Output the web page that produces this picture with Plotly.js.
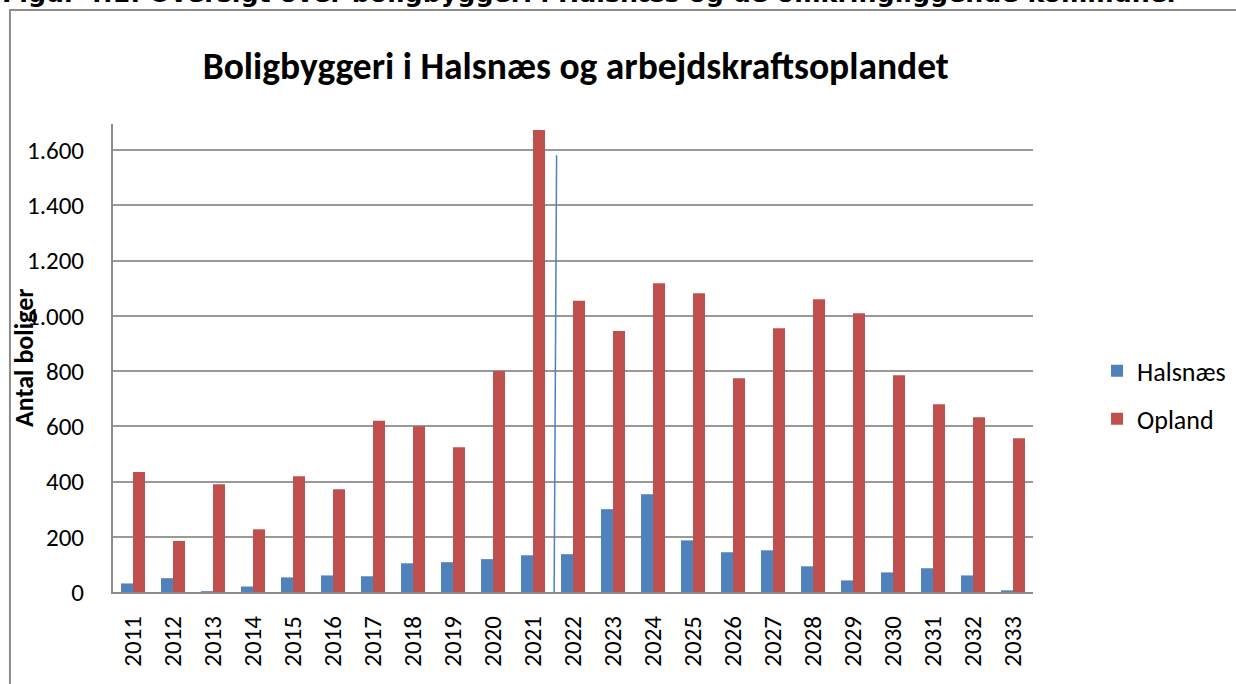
<!DOCTYPE html>
<html>
<head>
<meta charset="utf-8">
<script src="https://cdn.plot.ly/plotly-3.0.1.min.js"></script>
<style>
html,body{margin:0;padding:0;background:#fff;overflow:hidden;}
#chart{width:1236px;height:684px;}
</style>
</head>
<body>
<div id="chart"></div>
<script>
const years = ["2011","2012","2013","2014","2015","2016","2017","2018","2019","2020","2021","2022","2023","2024","2025","2026","2027","2028","2029","2030","2031","2032","2033"];
const halsnaes = [31, 50, 3, 20, 53, 60, 57, 104, 108, 119, 133, 137, 300, 354, 187, 144, 151, 93, 42, 71, 86, 60, 6];
const opland = [435, 185, 390, 227, 419, 372, 620, 600, 524, 800, 1673, 1055, 945, 1118, 1082, 774, 955, 1060, 1010, 785, 680, 633, 557];
const seriesNames = ["Halsnæs", "Opland"];
const chartTitle = "Boligbyggeri i Halsnæs og arbejdskraftsoplandet";
const yTitle = "Antal boliger";
const headerText = "Figur 4.1: Oversigt over boligbyggeri i Halsnæs og de omkringliggende kommuner";
// divider between historic and projected years (category index position)
const dividerTop = {x: 10.59, y: 1582};
const dividerBottom = {x: 10.525, y: -84};

const FONT = "Carlito, Calibri, Lato, sans-serif";

const traces = [
  {type: "bar", x: years, y: halsnaes, name: seriesNames[0], marker: {color: "#4f81bd"}, legendgroup: "a", hoverinfo: "x+y"},
  {type: "bar", x: years, y: opland, name: seriesNames[1], marker: {color: "#c0504d"}, legendgroup: "b", hoverinfo: "x+y"}
];

const layout = {
  width: 1236, height: 684,
  margin: {l: 113, r: 203, t: 124, b: 92, autoexpand: false},
  paper_bgcolor: "#fff", plot_bgcolor: "#fff",
  separators: ",.",
  font: {family: FONT, size: 25, color: "#000"},
  barmode: "group", bargap: 0.4, bargroupgap: 0,
  title: {text: chartTitle, font: {family: FONT, size: 37.5, weight: 700, color: "#000"},
          x: 0.503, xref: "paper", xanchor: "center", y: 0.903, yref: "container", yanchor: "middle"},
  xaxis: {type: "category", range: [-0.5, 22.5], tickangle: -90, ticks: "", showgrid: false,
          showline: true, linecolor: "#8c8c8c", linewidth: 2, ticklabelstandoff: 12,
          tickfont: {family: FONT, size: 25, color: "#000"}, fixedrange: true, zeroline: false, automargin: false},
  yaxis: {range: [0, 1695], dtick: 200, tick0: 0, tickformat: ",d", ticks: "", showgrid: true,
          gridcolor: "#999", gridwidth: 2, showline: true, linecolor: "#8c8c8c", linewidth: 2,
          zeroline: false, ticklabelstandoff: 22, tickfont: {family: FONT, size: 25, color: "#000"}, fixedrange: true, automargin: false},
  legend: {x: 1.0696, xanchor: "left", y: 0.421, yanchor: "middle", traceorder: "grouped", tracegroupgap: 11,
           font: {family: FONT, size: 26, color: "#000"}, bgcolor: "rgba(0,0,0,0)"},
  annotations: [
    {text: yTitle, textangle: -90, xref: "paper", yref: "paper", x: -0.0968, y: 0.5, xanchor: "center", yanchor: "middle",
     showarrow: false, font: {family: FONT, size: 26, weight: 700, color: "#000"}},
    {text: headerText, xref: "paper", yref: "paper", x: -0.1228, y: 1.2436, xanchor: "left", yanchor: "bottom",
     showarrow: false, font: {family: "DejaVu Sans", size: 25.3, weight: 700, color: "#000"}}
  ],
  shapes: [
    {type: "line", xref: "x", yref: "y", x0: dividerTop.x, y0: dividerTop.y, x1: dividerBottom.x, y1: dividerBottom.y,
     line: {color: "#4f81bd", width: 1.5}, layer: "above"},
    {type: "rect", xref: "paper", yref: "paper", x0: -0.112, x1: 1.25, y0: -0.25, y1: 1.2436,
     line: {color: "#8c8c8c", width: 2}, fillcolor: "rgba(0,0,0,0)", layer: "below"}
  ],
  showlegend: true
};

Plotly.newPlot("chart", traces, layout, {displayModeBar: false, staticPlot: true});
</script>
</body>
</html>
